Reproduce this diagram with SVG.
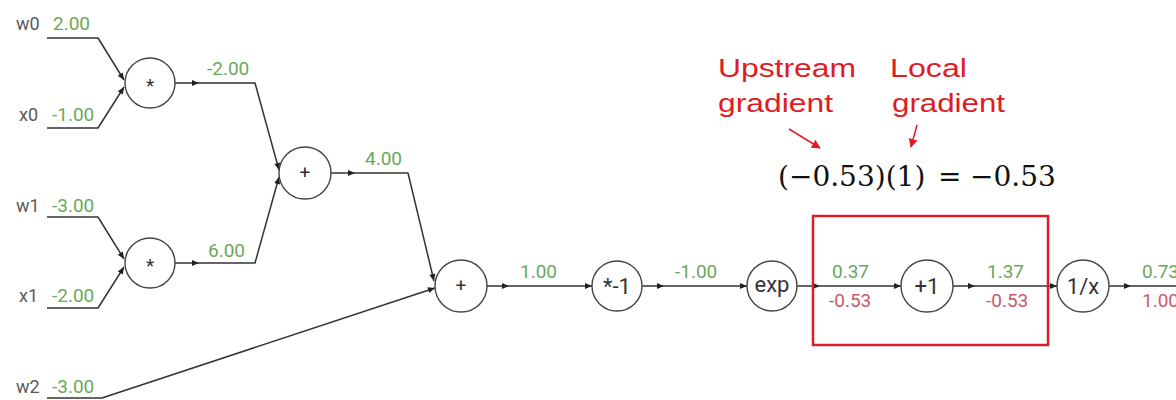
<svg xmlns="http://www.w3.org/2000/svg" xmlns:xlink="http://www.w3.org/1999/xlink" width="1176" height="400" viewBox="0 0 1176 400">
  <style>
    .edge { fill: none; stroke: #333; stroke-width: 1.5; stroke-linejoin: round; }
    .node circle { fill: #fff; stroke: #444; stroke-width: 1.4; }
    .op { font-family: Roboto, "Liberation Sans", sans-serif; font-size: 22px; fill: #333; text-anchor: middle; }
    .op.small { font-size: 19px; }
    .name { font-family: Roboto, "Liberation Sans", sans-serif; font-size: 18px; fill: #5a5a5a; }
    .val { font-family: Roboto, "Liberation Sans", sans-serif; font-size: 19px; fill: #6aa85c; }
    .grad { font-family: Roboto, "Liberation Sans", sans-serif; font-size: 19px; fill: #c85a6c; }
    .note { font-family: "Liberation Sans", Arial, sans-serif; font-size: 25px; fill: #e01b24; }
    .eq { font-family: "DejaVu Serif", "Liberation Serif", serif; font-size: 28px; fill: #111; }
    .hl { fill: none; stroke: #d91e25; stroke-width: 2.5; }
    .red { stroke: #e01b24; stroke-width: 1.5; fill: none; }
  </style>
  <defs>
    <path id="ah" d="M0 0 L-7 -3 L-7 3 Z" fill="#222"/>
    <marker id="redhead" viewBox="0 0 10 10" refX="9" refY="5" markerWidth="6" markerHeight="6" orient="auto">
      <path d="M0 0 L10 5 L0 10 Z" fill="#e01b24"/>
    </marker>
  </defs>

  <rect width="1176" height="400" fill="#fff"/>

  <!-- connectors -->
  <g id="connectors">
    <path class="edge" d="M47 38 H98 L124 80"/>
    <path class="edge" d="M47 128 H98 L124 87"/>
    <path class="edge" d="M175 83 H255 L279 170"/>
    <path class="edge" d="M47 217 H98 L124 259"/>
    <path class="edge" d="M47 308 H98 L124 267"/>
    <path class="edge" d="M175 263 H255 L279 177"/>
    <path class="edge" d="M331 173 H408 L434 281"/>
    <path class="edge" d="M47 398 H102 L435 288"/>
    <path class="edge" d="M487 286 H592"/>
    <path class="edge" d="M642 286 H747"/>
    <path class="edge" d="M797 286 H901"/>
    <path class="edge" d="M953 286 H1057"/>
    <path class="edge" d="M1109 286 H1176"/>

    <use xlink:href="#ah" transform="translate(124 80) rotate(58)"/>
    <use xlink:href="#ah" transform="translate(124 87) rotate(-58)"/>
    <use xlink:href="#ah" transform="translate(199 83)"/>
    <use xlink:href="#ah" transform="translate(279 170) rotate(75)"/>
    <use xlink:href="#ah" transform="translate(124 259) rotate(58)"/>
    <use xlink:href="#ah" transform="translate(124 267) rotate(-58)"/>
    <use xlink:href="#ah" transform="translate(199 263)"/>
    <use xlink:href="#ah" transform="translate(279 177) rotate(-75)"/>
    <use xlink:href="#ah" transform="translate(355 173)"/>
    <use xlink:href="#ah" transform="translate(434 281) rotate(76)"/>
    <use xlink:href="#ah" transform="translate(435 288) rotate(-18)"/>
    <use xlink:href="#ah" transform="translate(509 286)"/>
    <use xlink:href="#ah" transform="translate(592 286)"/>
    <use xlink:href="#ah" transform="translate(664 286)"/>
    <use xlink:href="#ah" transform="translate(747 286)"/>
    <use xlink:href="#ah" transform="translate(820 286)"/>
    <use xlink:href="#ah" transform="translate(901 286)"/>
    <use xlink:href="#ah" transform="translate(975 286)"/>
    <use xlink:href="#ah" transform="translate(1057 286)"/>
    <use xlink:href="#ah" transform="translate(1131 286)"/>
  </g>

  <!-- input names and values -->
  <g id="inputs">
    <text class="name" x="16" y="30">w0</text><text class="val" x="53" y="30">2.00</text>
    <text class="name" x="19" y="121">x0</text><text class="val" x="52" y="121">-1.00</text>
    <text class="name" x="16" y="212">w1</text><text class="val" x="52" y="212">-3.00</text>
    <text class="name" x="19" y="302">x1</text><text class="val" x="52" y="302">-2.00</text>
    <text class="name" x="16" y="393">w2</text><text class="val" x="52" y="393">-3.00</text>
  </g>

  <!-- forward values / gradients along edges -->
  <g id="edge-values">
    <text class="val" x="207" y="75">-2.00</text>
    <text class="val" x="208" y="257">6.00</text>
    <text class="val" x="365" y="165">4.00</text>
    <text class="val" x="520" y="278">1.00</text>
    <text class="val" x="675" y="278">-1.00</text>
    <text class="val" x="832" y="278">0.37</text>
    <text class="grad" x="829" y="307">-0.53</text>
    <text class="val" x="987" y="278">1.37</text>
    <text class="grad" x="986" y="307">-0.53</text>
    <text class="val" x="1142" y="278">0.73</text>
    <text class="grad" x="1142" y="307">1.00</text>
  </g>

  <!-- operation nodes -->
  <g id="mul0" class="node"><circle cx="150" cy="83" r="25"/><text class="op small" x="150" y="92">*</text></g>
  <g id="mul1" class="node"><circle cx="150" cy="263" r="25"/><text class="op small" x="150" y="272">*</text></g>
  <g id="add0" class="node"><circle cx="305" cy="173" r="26"/><text class="op small" x="305" y="179">+</text></g>
  <g id="add1" class="node"><circle cx="461" cy="286" r="26"/><text class="op small" x="461" y="292">+</text></g>
  <g id="neg" class="node"><circle cx="617" cy="286" r="25"/><text class="op" x="617" y="294">*-1</text></g>
  <g id="exp" class="node"><circle cx="772" cy="286" r="25"/><text class="op" x="772" y="292">exp</text></g>
  <g id="plus1" class="node"><circle cx="927" cy="286" r="26"/><text class="op" x="927" y="294">+1</text></g>
  <g id="inv" class="node"><circle cx="1083" cy="286" r="26"/><text class="op" x="1083" y="294">1/x</text></g>

  <!-- highlighted gate and annotation -->
  <g id="annotation">
    <rect class="hl" x="813" y="216" width="235" height="129"/>
    <text class="note" x="718" y="77" textLength="138" lengthAdjust="spacingAndGlyphs">Upstream</text>
    <text class="note" x="718" y="112" textLength="115" lengthAdjust="spacingAndGlyphs">gradient</text>
    <text class="note" x="890" y="77" textLength="77" lengthAdjust="spacingAndGlyphs">Local</text>
    <text class="note" x="892" y="112" textLength="113" lengthAdjust="spacingAndGlyphs">gradient</text>
    <line class="red" x1="789" y1="129" x2="820" y2="148" marker-end="url(#redhead)"/>
    <line class="red" x1="917" y1="125" x2="911" y2="147" marker-end="url(#redhead)"/>
    <text class="eq" x="778" y="186">(−0.53)(1)</text>
    <text class="eq" x="938" y="186">=</text>
    <text class="eq" x="970" y="186">−0.53</text>
  </g>
</svg>
